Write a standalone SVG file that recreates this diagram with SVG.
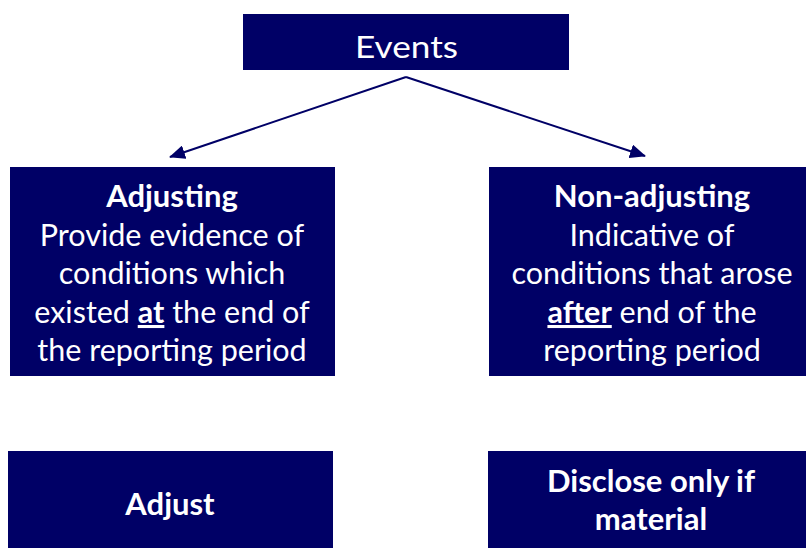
<svg xmlns="http://www.w3.org/2000/svg" width="806" height="548" viewBox="0 0 806 548">
  <style>
    .box { fill: #000066; }
    .t { font-family: Lato, "Open Sans", sans-serif; fill: #ffffff; font-size: 30.5px; text-anchor: middle; }
    .b { font-weight: bold; font-size: 31px; }
    .u { text-decoration: underline; font-weight: bold; }
    .conn { stroke: #000066; stroke-width: 2; fill: none; marker-end: url(#arrow); }
  </style>
  <defs>
    <marker id="arrow" viewBox="0 0 16 14" refX="15" refY="7" markerWidth="16" markerHeight="14" markerUnits="userSpaceOnUse" orient="auto">
      <path d="M0,0 L16,7 L0,14 z" fill="#000066"/>
    </marker>
  </defs>
  <rect width="806" height="548" fill="#ffffff"/>

  <g id="connectors">
    <line class="conn" x1="406" y1="77" x2="170" y2="157"/>
    <line class="conn" x1="406" y1="77" x2="645" y2="156"/>
  </g>

  <g id="events">
    <rect class="box" x="243" y="14" width="326" height="56"/>
    <text class="t" x="406.5" y="58" font-size="30" textLength="103" lengthAdjust="spacingAndGlyphs">Events</text>
  </g>

  <g id="adjusting">
    <rect class="box" x="10" y="167" width="325" height="209"/>
    <text class="t" x="172" y="207"><tspan class="b">Adjusting</tspan></text>
    <text class="t" x="172" y="246">Provide evidence of</text>
    <text class="t" x="172" y="284">conditions which</text>
    <text class="t" x="172" y="323">existed <tspan class="u">at</tspan> the end of</text>
    <text class="t" x="172" y="361">the reporting period</text>
  </g>

  <g id="non-adjusting">
    <rect class="box" x="489" y="167" width="317" height="209"/>
    <text class="t" x="652" y="207"><tspan class="b">Non-adjusting</tspan></text>
    <text class="t" x="652" y="246">Indicative of</text>
    <text class="t" x="652" y="284">conditions that arose</text>
    <text class="t" x="652" y="323"><tspan class="u">after</tspan> end of the</text>
    <text class="t" x="652" y="361">reporting period</text>
  </g>

  <g id="adjust">
    <rect class="box" x="8" y="451" width="325" height="97"/>
    <text class="t b" x="170" y="515">Adjust</text>
  </g>

  <g id="disclose">
    <rect class="box" x="488" y="451" width="318" height="97"/>
    <text class="t b" x="651" y="492">Disclose only if</text>
    <text class="t b" x="651" y="530">material</text>
  </g>
</svg>
